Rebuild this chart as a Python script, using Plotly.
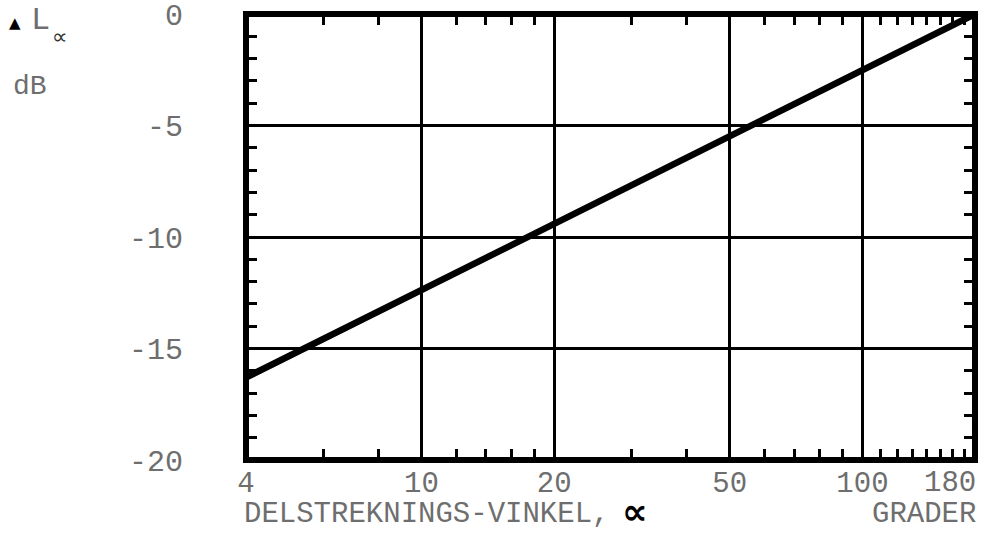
import plotly.graph_objects as go

# Level correction vs. sub-segment angle (read at the two ends of the straight log line)
angle_deg = [4, 180]
delta_l_db = [-16.3, 0]

# Axis ticks
x_major = [4, 10, 20, 50, 100]
x_major_text = ["4", "10", "20", "50", "100"]
x_minor = [6, 8, 12, 14, 16, 18, 30, 40, 60, 70, 80, 90,
           110, 120, 130, 140, 150, 160, 170]
y_major = [0, -5, -10, -15, -20]
y_major_text = ["0", "-5", "-10", "-15", "-20"]
y_minor = [v for v in range(-19, 0) if v % 5 != 0]

W, H = 991, 533
L, R, T, B = 246, 16, 14, 73
PW, PH = W - L - R, H - T - B

def px(x):
    return (x - L) / PW

def py(y):
    return (H - B - y) / PH

FONT = "Liberation Mono"
GREY = "#6e6e6e"

fig = go.Figure()
fig.add_trace(go.Scatter(
    x=angle_deg, y=delta_l_db, mode="lines",
    line=dict(color="black", width=6.5), showlegend=False, hoverinfo="skip"))
# invisible traces so the mirrored tick axes render
fig.add_trace(go.Scatter(x=[10], y=[-10], xaxis="x2", yaxis="y2", mode="markers",
                         marker=dict(opacity=0), showlegend=False, hoverinfo="skip"))

xr = [0.60206, 2.2552725]
fig.update_layout(
    width=W, height=H, autosize=False,
    margin=dict(l=L, r=R, t=T, b=B, autoexpand=False),
    paper_bgcolor="white", plot_bgcolor="white",
    xaxis=dict(type="log", range=xr, tickmode="array", tickvals=x_major,
               ticktext=x_major_text, showgrid=True, gridcolor="black", gridwidth=2.5,
               zeroline=False, showline=False, ticks="", ticklabelstandoff=2,
               ticklabeloverflow="allow", automargin=False,
               tickfont=dict(family=FONT, size=29, color=GREY),
               minor=dict(tickmode="array", tickvals=x_minor, ticks="inside",
                          ticklen=11, tickwidth=3, tickcolor="black", showgrid=False)),
    yaxis=dict(range=[-20, 0], tickmode="array", tickvals=y_major, ticktext=y_major_text,
               showgrid=True, gridcolor="black", gridwidth=2.5, zeroline=False,
               showline=False, ticks="", ticklabelstandoff=62,
               ticklabeloverflow="allow", automargin=False,
               tickfont=dict(family=FONT, size=30, color=GREY),
               minor=dict(tickmode="array", tickvals=y_minor, ticks="inside",
                          ticklen=11, tickwidth=3, tickcolor="black", showgrid=False)),
    xaxis2=dict(type="log", range=xr, overlaying="x", side="top", anchor="y",
                tickmode="array", tickvals=x_minor, ticks="inside", ticklen=11,
                tickwidth=3, tickcolor="black", showticklabels=False, showgrid=False,
                zeroline=False, showline=False, automargin=False),
    yaxis2=dict(range=[-20, 0], overlaying="y", side="right", anchor="x",
                tickmode="array", tickvals=y_minor, ticks="inside", ticklen=11,
                tickwidth=3, tickcolor="black", showticklabels=False, showgrid=False,
                zeroline=False, showline=False, automargin=False),
    shapes=[dict(type="rect", xref="paper", yref="paper", x0=0, x1=1, y0=0, y1=1,
                 line=dict(color="black", width=6), layer="above")],
)

annotations = [
    dict(x=1, y=py(484), text="180", xanchor="right", yanchor="middle", xshift=3,
         font=dict(family=FONT, size=29, color=GREY)),
    dict(x=px(242), y=py(514), text="DELSTREKNINGS-VINKEL,", xanchor="left",
         yanchor="middle", font=dict(family=FONT, size=29, color=GREY)),
    dict(x=px(620), y=py(512), text="<b>∝</b>", xanchor="left", yanchor="middle",
         font=dict(family="DejaVu Sans", size=36, color="black")),
    dict(x=1, y=py(514), text="GRADER", xanchor="right", yanchor="middle", xshift=3,
         font=dict(family=FONT, size=29, color=GREY)),
    dict(x=px(7), y=py(23), text="▲", xanchor="left", yanchor="middle",
         font=dict(family="DejaVu Sans", size=15, color="black")),
    dict(x=px(29), y=py(20), text="L", xanchor="left", yanchor="middle",
         font=dict(family=FONT, size=32, color=GREY)),
    dict(x=px(50), y=py(36), text="∝", xanchor="left", yanchor="middle",
         font=dict(family="DejaVu Sans", size=22, color="#333333")),
    dict(x=px(11), y=py(86), text="dB", xanchor="left", yanchor="middle",
         font=dict(family=FONT, size=28, color=GREY)),
]
for a in annotations:
    a.update(xref="paper", yref="paper", showarrow=False)
fig.update_layout(annotations=annotations)

fig.write_html("out.html")
